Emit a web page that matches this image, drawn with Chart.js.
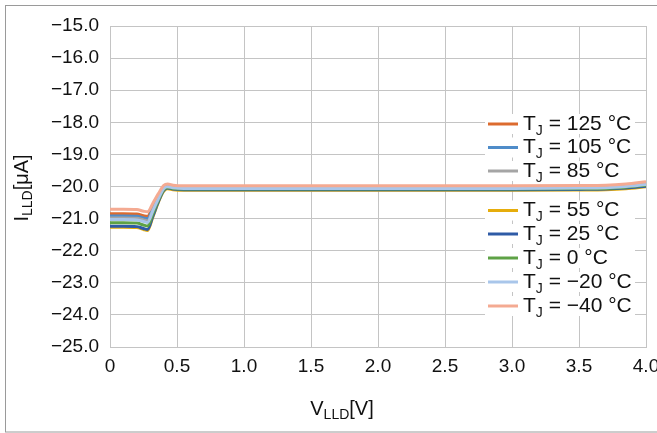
<!DOCTYPE html>
<html>
<head>
<meta charset="utf-8">
<script src="https://cdn.jsdelivr.net/npm/chart.js@4.4.1/dist/chart.umd.min.js"></script>
<style>
  html, body { margin: 0; padding: 0; background: #fff; }
  #wrap { width: 657px; height: 433px; }
</style>
</head>
<body>
<div id="wrap"><canvas id="lldChart" width="657" height="433"></canvas></div>
<script>
// V_LLD sweep points [V]
const vLLD = [0, 0.1, 0.2, 0.25, 0.28, 0.32, 0.36, 0.4, 0.43, 0.47, 0.55, 1.0, 2.0, 3.0, 3.5, 3.7, 3.85, 4.0];

// junction temperatures [°C], legend order
const tempsJ = [125, 105, 85, 55, 25, 0, -20, -40];

// I_LLD [µA] per temperature
const i125 = [-20.85, -20.85, -20.86, -20.91, -20.93, -20.62, -20.30, -20.02, -19.96, -20.00, -20.02, -20.02, -20.02, -20.02, -20.01, -20.00, -19.96, -19.89];
const i105 = [-20.92, -20.92, -20.93, -20.98, -21.00, -20.68, -20.34, -20.05, -19.99, -20.03, -20.05, -20.05, -20.05, -20.05, -20.04, -20.03, -19.99, -19.92];
const i85  = [-20.98, -20.98, -20.99, -21.04, -21.07, -20.73, -20.36, -20.06, -20.00, -20.03, -20.05, -20.05, -20.05, -20.05, -20.04, -20.03, -19.99, -19.93];
const i55  = [-21.27, -21.27, -21.28, -21.34, -21.37, -20.95, -20.50, -20.15, -20.07, -20.10, -20.12, -20.12, -20.12, -20.12, -20.11, -20.10, -20.07, -20.01];
const i25  = [-21.24, -21.24, -21.25, -21.31, -21.34, -20.92, -20.48, -20.13, -20.05, -20.08, -20.10, -20.10, -20.10, -20.10, -20.09, -20.08, -20.05, -19.99];
const i0   = [-21.13, -21.13, -21.14, -21.20, -21.23, -20.84, -20.43, -20.10, -20.03, -20.06, -20.08, -20.08, -20.08, -20.08, -20.07, -20.06, -20.02, -19.96];
const iM20 = [-21.03, -21.03, -21.04, -21.09, -21.12, -20.76, -20.39, -20.07, -20.01, -20.04, -20.06, -20.06, -20.06, -20.06, -20.05, -20.04, -20.00, -19.94];
const iM40 = [-20.71, -20.71, -20.72, -20.77, -20.79, -20.52, -20.23, -19.97, -19.92, -19.96, -19.98, -19.98, -19.98, -19.98, -19.97, -19.96, -19.92, -19.85];

const seriesI = [i125, i105, i85, i55, i25, i0, iM20, iM40];
const colors = ["#dc6b2f", "#4f8cc9", "#a5a5a5", "#e6ad0c", "#2f5ba6", "#5ea246", "#a9c6ea", "#f4aa92"];

const FONT = "'Liberation Sans', Arial, sans-serif";
const minus = (s) => s.replace("-", "\u2212");

// draw text with subscript pieces; parts = [[text, isSub], ...]
function drawParts(ctx, parts, x, y, size, align) {
  const subSize = Math.round(size * 0.68);
  let total = 0;
  parts.forEach(([t, sub]) => {
    ctx.font = (sub ? subSize : size) + "px " + FONT;
    total += ctx.measureText(t).width;
  });
  let cx = align === "center" ? x - total / 2 : x;
  ctx.textAlign = "left";
  ctx.textBaseline = "middle";
  parts.forEach(([t, sub]) => {
    ctx.font = (sub ? subSize : size) + "px " + FONT;
    ctx.fillText(t, cx, sub ? y + size * 0.33 : y);
    cx += ctx.measureText(t).width;
  });
}

// legend rows are unevenly spaced in the original
const legendRowsY = [124, 147.5, 171, 210.5, 234, 258, 282, 306];

const decorations = {
  id: "decorations",
  beforeDraw(chart) {
    const ctx = chart.ctx;
    ctx.save();
    ctx.strokeStyle = "#9a9a9a";
    ctx.lineWidth = 1;
    ctx.strokeRect(5.5, 5.5, 700, 426.5);
    ctx.restore();
  },
  afterDraw(chart) {
    const ctx = chart.ctx;
    ctx.save();
    ctx.fillStyle = "#111";
    // x title
    drawParts(ctx, [["V", false], ["LLD", true], ["[V]", false]], 342, 409, 20, "center");
    // y title
    ctx.translate(22, 188);
    ctx.rotate(-Math.PI / 2);
    drawParts(ctx, [["I", false], ["LLD", true], ["[\u03bcA]", false]], 0, 0, 20, "center");
    ctx.restore();

    // legend
    ctx.save();
    chart.data.datasets.forEach((ds, i) => {
      const y = legendRowsY[i];
      ctx.fillStyle = "#fff";
      ctx.fillRect(485, y - 10, 150, 20);
      ctx.strokeStyle = ds.borderColor;
      ctx.lineWidth = 3;
      ctx.beginPath();
      ctx.moveTo(488, y);
      ctx.lineTo(518, y);
      ctx.stroke();
      ctx.fillStyle = "#111";
      drawParts(ctx, [["T", false], ["J", true], [" = " + minus(String(tempsJ[i])) + " \u00b0C", false]], 523, y, 21, "left");
    });
    ctx.restore();
  }
};

const datasets = seriesI.map((vals, i) => ({
  label: "TJ = " + tempsJ[i] + " °C",
  data: vLLD.map((v, k) => ({ x: v, y: vals[k] })),
  borderColor: colors[i],
  backgroundColor: colors[i],
  borderWidth: 3,
  pointRadius: 0,
  cubicInterpolationMode: "monotone",
  order: seriesI.length - 1 - i
}));

new Chart(document.getElementById("lldChart"), {
  type: "line",
  data: { datasets },
  options: {
    responsive: false,
    animation: false,
    layout: { padding: { left: 0, right: 11, top: 26, bottom: 0 } },
    plugins: { legend: { display: false }, tooltip: { enabled: false } },
    scales: {
      x: {
        type: "linear",
        min: 0,
        max: 4,
        ticks: {
          stepSize: 0.5,
          padding: 8,
          color: "#111",
          font: { family: FONT, size: 19 },
          maxRotation: 0,
          callback: (v) => (v === 0 ? "0" : v.toFixed(1))
        },
        grid: { color: "#c4c4c4", drawTicks: false },
        border: { color: "#c4c4c4" },
        afterFit(scale) {
          scale.height = 86;
          scale.paddingLeft = 0;
          scale.paddingRight = 0;
        }
      },
      y: {
        min: -25,
        max: -15,
        ticks: {
          stepSize: 1,
          padding: 11,
          color: "#111",
          font: { family: FONT, size: 19 },
          callback: (v) => minus(v.toFixed(1))
        },
        grid: { color: "#c4c4c4", drawTicks: false },
        border: { color: "#c4c4c4" },
        afterFit(scale) {
          scale.width = 110;
        }
      }
    }
  },
  plugins: [decorations]
});
</script>
</body>
</html>
